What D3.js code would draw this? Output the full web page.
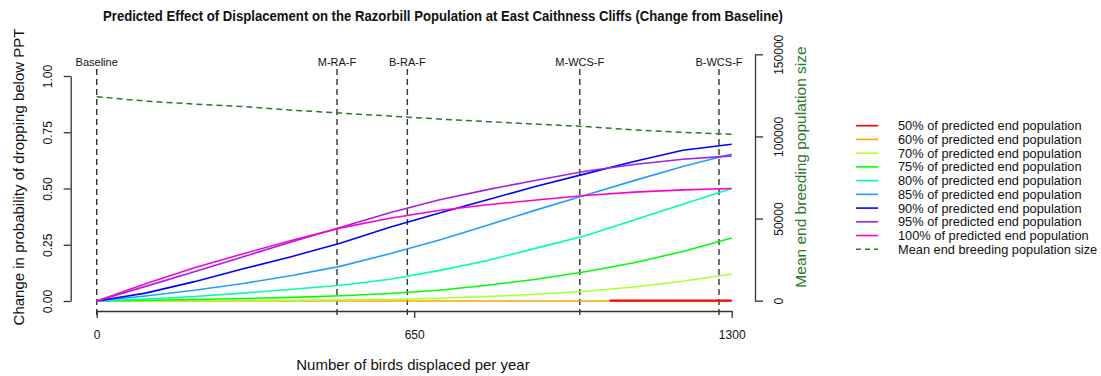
<!DOCTYPE html>
<html><head><meta charset="utf-8">
<script src="https://cdn.jsdelivr.net/npm/d3@7"></script>
<style>
body{margin:0;background:#fff;}
text{font-family:"Liberation Sans",Arial,sans-serif;}
</style></head>
<body><svg id="c" width="1101" height="376"></svg>
<script>
// ---- data ----
const birds = [0,100,200,300,400,500,600,700,800,900,1000,1100,1200,1300];
const p50  = [null,null,null,null,null,null,null,null,null,null,null,0.002,0.002,0.002];
const p50Start = 1050;
const p60  = [0,0,0,0,0,0,0,0,0,0,0,0.001,0.001,0.001];
const p70  = [0,0,0.001,0.002,0.003,0.005,0.007,0.012,0.02,0.03,0.043,0.062,0.088,0.12];
const p75  = [0,0.003,0.007,0.011,0.016,0.023,0.033,0.048,0.07,0.097,0.13,0.17,0.22,0.28];
const p80  = [0,0.009,0.02,0.035,0.052,0.07,0.097,0.135,0.18,0.235,0.29,0.36,0.43,0.50];
const p85  = [0,0.022,0.048,0.078,0.113,0.155,0.21,0.27,0.337,0.405,0.47,0.535,0.598,0.653];
const p90  = [0,0.035,0.086,0.143,0.198,0.258,0.328,0.39,0.45,0.51,0.565,0.62,0.67,0.697];
const p95  = [0,0.065,0.13,0.197,0.263,0.328,0.392,0.449,0.495,0.537,0.577,0.607,0.63,0.645];
const p100 = [0,0.077,0.148,0.21,0.27,0.325,0.368,0.402,0.428,0.449,0.469,0.484,0.494,0.50];
const meanPop = [124200,121500,119700,118200,116000,114200,112400,110600,109000,107500,106000,104000,102500,101300];
const markerNames = ["Baseline","M-RA-F","B-RA-F","M-WCS-F","B-WCS-F"];
const markerBirds = [0,492,636,989,1274];
const xTicks = [0,650,1300];
const yTicks = [0,0.25,0.5,0.75,1];
const y2Ticks = [0,50000,100000,150000];
const seriesNames = ["50% of predicted end population","60% of predicted end population","70% of predicted end population","75% of predicted end population","80% of predicted end population","85% of predicted end population","90% of predicted end population","95% of predicted end population","100% of predicted end population"];
const seriesColors = ["#FF0000","#FFA500","#ADFF2F","#00FF00","#00FFAA","#1EA0FF","#0000FF","#A020F0","#FF00CC"];
const meanName = "Mean end breeding population size";
const meanColor = "#2a7a2a";
const titleText = "Predicted Effect of Displacement on the Razorbill Population at East Caithness Cliffs (Change from Baseline)";

// ---- chart ----
const svg = d3.select("#c");
const x = d3.scaleLinear().domain([0,1300]).range([96.7,731.7]);
const y = d3.scaleLinear().domain([0,1]).range([301,76]);
const y2 = d3.scaleLinear().domain([0,150000]).range([300.7,54.3]);

svg.append("text").attr("x",443).attr("y",21).attr("text-anchor","middle")
  .attr("font-weight","bold").attr("font-size",14.5).attr("fill","#111")
  .attr("textLength",680).attr("lengthAdjust","spacingAndGlyphs").text(titleText);

// markers
markerBirds.forEach((b,i)=>{
  svg.append("line").attr("x1",x(b)).attr("x2",x(b)).attr("y1",69).attr("y2",318)
    .attr("stroke","#333").attr("stroke-width",1.4).attr("stroke-dasharray","6,4");
  svg.append("text").attr("x",x(b)).attr("y",66).attr("text-anchor","middle")
    .attr("font-size",11).attr("fill","#111").text(markerNames[i]);
});

// mean pop line
svg.append("path").datum(meanPop.map((v,i)=>[birds[i],v]))
  .attr("d",d3.line().x(d=>x(d[0])).y(d=>y2(d[1])))
  .attr("fill","none").attr("stroke",meanColor).attr("stroke-width",1.5).attr("stroke-dasharray","6,4");

// series
const all = [p50,p60,p70,p75,p80,p85,p90,p95,p100];
const line = d3.line().defined(d=>d[1]!==null).x(d=>x(d[0])).y(d=>y(d[1]));
const order = [1,0,2,3,4,5,6,7,8];
order.forEach(k=>{
  let pts = all[k].map((v,i)=>[birds[i],v]);
  if(k===0){ pts = [[p50Start,0.002]].concat(pts.filter(d=>d[1]!==null)); }
  svg.append("path").datum(pts).attr("d",line).attr("fill","none")
    .attr("stroke",seriesColors[k]).attr("stroke-width",k===0?2.2:1.6);
});

// axes
const ax = svg.append("g").attr("transform","translate(0,311)")
  .call(d3.axisBottom(x).tickValues(xTicks).tickFormat(d3.format("d")).tickSize(7).tickSizeOuter(0).tickPadding(12));
const ay = svg.append("g").attr("transform","translate(70.7,0)")
  .call(d3.axisLeft(y).tickValues(yTicks).tickFormat(d3.format(".2f")).tickSize(7).tickSizeOuter(0));
ay.selectAll(".tick text").attr("x",0).attr("dy","0.35em").attr("text-anchor","middle")
  .attr("transform","translate(-22.7,0) rotate(-90)");
const ay2 = svg.append("g").attr("transform","translate(755,0)")
  .call(d3.axisRight(y2).tickValues(y2Ticks).tickFormat(d3.format("d")).tickSize(8).tickSizeOuter(0));
ay2.selectAll(".tick text").attr("x",0).attr("dy","0.35em").attr("text-anchor","middle")
  .attr("transform","translate(24,0) rotate(-90)");
[ax,ay,ay2].forEach(g=>{
  g.selectAll("path,line").attr("stroke","#333").attr("stroke-width",1.3);
  g.selectAll("text").attr("font-size",12).attr("fill","#111").attr("font-family","'Liberation Sans',Arial,sans-serif");
});

// axis titles
svg.append("text").attr("x",413).attr("y",370).attr("text-anchor","middle")
  .attr("font-size",15).attr("fill","#111").text("Number of birds displaced per year");
svg.append("text").attr("transform","translate(24,177) rotate(-90)").attr("text-anchor","middle")
  .attr("font-size",15).attr("fill","#111").text("Change in probability of dropping below PPT");
svg.append("text").attr("transform","translate(806,167) rotate(-90)").attr("text-anchor","middle")
  .attr("font-size",15.5).attr("fill",meanColor).text(meanName);

// legend
const lg = svg.append("g");
const names = seriesNames.concat([meanName]);
const cols = seriesColors.concat([meanColor]);
names.forEach((n,i)=>{
  const yy = 125.7 + i*13.73;
  lg.append("line").attr("x1",856).attr("x2",878).attr("y1",yy).attr("y2",yy)
    .attr("stroke",cols[i]).attr("stroke-width",1.6)
    .attr("stroke-dasharray", i===9?"5,4":null);
  lg.append("text").attr("x",898).attr("y",yy).attr("dy","0.35em")
    .attr("font-size",12.8).attr("fill","#111").text(n);
});
</script></body></html>
